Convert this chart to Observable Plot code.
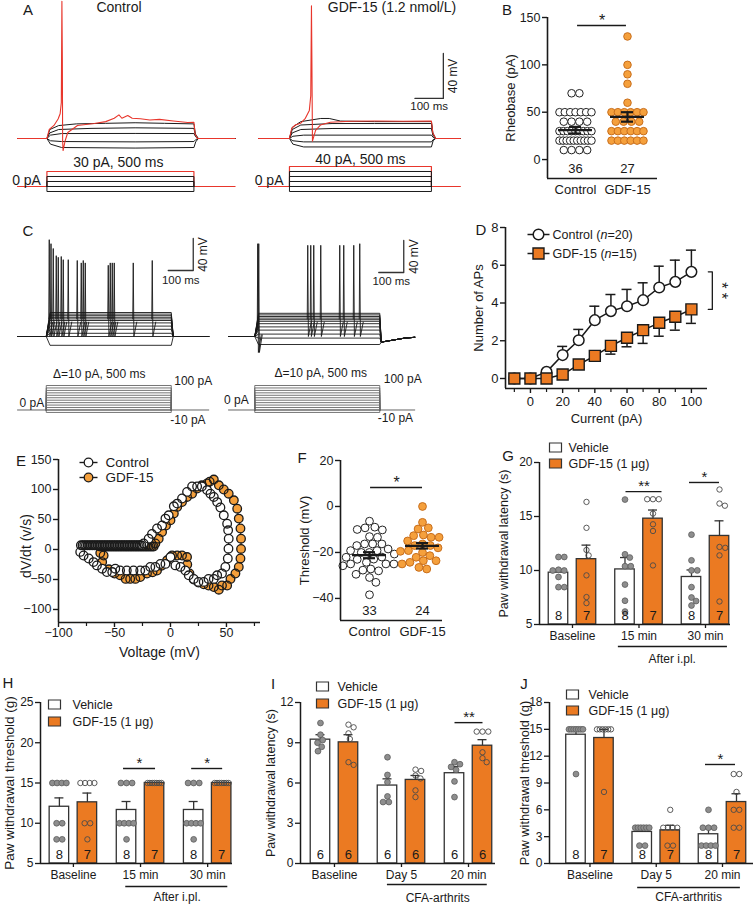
<!DOCTYPE html>
<html>
<head>
<meta charset="utf-8">
<script src="https://cdn.jsdelivr.net/npm/d3@7"></script>
<script src="https://cdn.jsdelivr.net/npm/@observablehq/plot@0.6"></script>
<style>
html,body{margin:0;padding:0;background:#fff;}
#fig{position:relative;width:755px;height:904px;overflow:hidden;background:#fff;font-family:"Liberation Sans",Arial,Helvetica,sans-serif;color:#1a1a1a;}
#fig svg{position:absolute;}
.t{position:absolute;white-space:nowrap;line-height:1;transform:translate(-50%,-50%);}
</style>
</head>
<body>
<div id="fig"></div>
<script>
// ======================= DATA =======================
// Panel A: representative traces [time (ms), Vm (mV)]
const aCtrlRed = [[-100,-60],[0,-60],[8,-52],[24,-48.4],[38,-42.7],[45,-38],[49,-28],[51,62],[52.5,10],[53.5,-62],[55,-70.7],[62,-62],[71,-54.7],[104,-48.4],[161,-46.7],[200,-45],[229,-42],[245,-39],[255,-42],[275,-39.6],[290,-42],[318,-42.5],[350,-43.5],[383,-43],[430,-44.5],[479,-45.8],[500,-45.5],[504,-56],[512,-60],[640,-60]];
const aCtrlBlack1 = [[-100,-60],[0,-60],[10,-52],[40,-48.5],[100,-47],[200,-46.5],[300,-46],[400,-46.5],[500,-47],[505,-56],[515,-60],[640,-60]];
const aCtrlBlack2 = [[-100,-60],[0,-60],[10,-55],[40,-52],[150,-51],[300,-50.5],[500,-51],[505,-57],[515,-60],[640,-60]];
const aCtrlBlack3 = [[-100,-60],[0,-60],[12,-57],[50,-55.6],[300,-55.5],[500,-55.6],[506,-58.5],[515,-60],[640,-60]];
const aCtrlBlack4 = [[-100,-60],[0,-60],[12,-62],[50,-62.7],[300,-63],[500,-62.7],[506,-61],[515,-60],[640,-60]];
const aCtrlBlack5 = [[-100,-60],[0,-60],[12,-65],[50,-68],[300,-68.5],[500,-68],[506,-63],[515,-60],[640,-60]];
const aGdfRed = [[-109,-60],[0,-60],[8,-51],[21,-48],[39,-46.5],[56,-42],[70,-35],[75,-22],[77.5,58],[79,10],[81,-62.4],[92,-52.7],[109,-48],[144,-45.5],[215,-44.7],[300,-44.5],[400,-44.7],[500,-44.5],[505,-55],[515,-60],[602,-60]];
const aGdfBlack1 = [[-109,-60],[0,-60],[10,-50],[40,-45],[110,-42.2],[140,-42.2],[180,-44.5],[300,-45],[500,-45],[505,-55],[515,-60],[602,-60]];
const aGdfBlack2 = [[-109,-60],[0,-60],[10,-52],[40,-48],[150,-46.7],[300,-46.7],[500,-46.7],[505,-56],[515,-60],[602,-60]];
const aGdfBlack3 = [[-109,-60],[0,-60],[10,-55],[40,-52],[150,-51.1],[500,-51.1],[505,-57],[515,-60],[602,-60]];
const aGdfBlack4 = [[-109,-60],[0,-60],[12,-58],[50,-57],[500,-57],[506,-59],[515,-60],[602,-60]];
const aGdfBlack5 = [[-109,-60],[0,-60],[12,-62],[50,-63],[500,-63],[506,-61],[515,-60],[602,-60]];
const aGdfBlack6 = [[-109,-60],[0,-60],[12,-65],[50,-67.5],[500,-67.5],[506,-62],[515,-60],[602,-60]];
const aCtrlStepsBlack = [-10, 0, 10, 20];   // pA
const aCtrlStepRed = 30;
const aGdfStepsBlack = [-10, 0, 10, 20, 30];
const aGdfStepRed = 40;

// Panel C: step protocol and steady levels (mV) per step, spikes (time ms, peak mV)
const cSteps = [-10,0,10,20,30,40,50,60,70,80,90,100];
const cCtrlLevels = [-71,-60,-56,-51,-47,-43,-40,-38,-36,-34,-32,-30];
const cGdfLevels = [-70,-62,-57,-52,-48,-44,-41,-39,-37,-35,-33,-31];
const cCtrlSpikeT = [12,19,28,40,48,60,68,88,124,140,148,156,248,256,264,272,348,424];
const cCtrlSpikePeak = [61,56,50,41,39,40,36,36,35,32,35,32,29,32,32,32,32,35];
const cGdfSpikeT = [12,16,212,224,236,264,340,356,396,420];
const cGdfSpikePeak = [56,56,54,54,54,54,54,54,54,56];

// Panel B: rheobase (pA)
const bGroups = ["Control", "GDF-15"];
const bControl = [70,70,50,50,50,50,50,50,50,40,40,40,40,30,30,30,30,30,30,30,30,30,20,20,20,20,20,20,20,20,20,20,10,10,10,10];
const bGdf = [130,100,90,80,60,50,50,50,50,50,50,40,40,40,40,30,30,30,30,30,30,20,20,20,20,20,20];
const bMean = [31, 45];
const bSem = [3.5, 5];
const bN = [36, 27];

// Panel D: number of APs vs current
const dCurrent = [-10,0,10,20,30,40,50,60,70,80,90,100];
const dCtrl = [0,0,0.35,1.24,2.03,3.09,3.57,3.83,4.15,4.82,5.12,5.65];
const dCtrlSem = [0,0,0,0.46,0.57,0.74,0.88,0.89,0.92,1.13,1.15,1.15];
const dGdf = [0,0,0,0.21,0.74,1.2,1.73,2.16,2.56,2.95,3.27,3.66];
const dGdfSem = [0,0,0,0,0.06,0.2,0.44,0.48,0.7,0.71,0.71,0.74];
const dXTicks = [0,20,40,60,80,100];
const dXMinor = [-10,10,30,50,70,90];
const dYTicks = [0,2,4,6,8];

// Panel E: phase plot [Voltage (mV), dV/dt (V/s)]
const eCtrl = [[-80,7],[-78.5,7],[-77,7],[-75.5,7],[-74,7],[-72.5,7],[-71,7],[-69.5,7],[-68,7],[-66.5,7],[-65,7],[-63.5,7],[-62,7],[-60.5,7],[-59,7],[-57.5,7],[-56,7],[-54.5,7],[-53,7],[-51.5,7],[-50,7],[-48.5,7],[-47,7],[-45.5,7],[-44,7],[-42.5,7],[-41,7],[-39.5,7],[-38,7],[-36.5,7],[-35,7],[-33.5,7],[-32,7],[-30.5,7],[-29,7],[-27.5,7],[-26,7],
[-24,10],[-19.5,18],[-16.5,26],[-12,35],[-7.5,40],[-4.5,51.5],[-1.6,57],[3,72],[6,76.5],[10.3,85],[14.8,96],[19.3,105],[23.8,105],[28,105],[32.7,99],[35.7,93],[38.7,87.6],[41.7,79],[44.6,70],[47.6,57],[50.6,43],[51.5,32],[52,18],[51.8,1.3],[51.2,-15],[49,-29],[46,-40],[41.7,-43],[38.7,-49],[34,-49],[29.7,-54],[25,-54],[20.8,-49],[16.3,-43],[13.3,-35],[8.9,-29],[4.4,-26.5],[0,-12.6],[-4.5,-24],[-9,-24],[-13.5,-29],[-18,-29],[-22.5,-35],[-27,-35],[-33,-35],[-39,-35],[-45,-35],[-49.3,-32],[-52,-37.6],[-56.8,-37.6],[-61,-32],[-65.7,-26.5],[-68.7,-21],[-73,-15],[-77.6,-10],[-80.6,-4]];
const eGdf = [[-63,5],[-61.5,5],[-60,5],[-58.5,5],[-57,5],[-55.5,5],[-54,5],[-52.5,5],[-51,5],[-49.5,5],[-48,5],[-46.5,5],[-45,5],[-43.5,5],[-42,5],[-40.5,5],[-39,5],[-37.5,5],[-36,5],[-34.5,5],[-33,5],[-31.5,5],[-30,5],[-28.5,5],[-27,5],[-25.5,5],[-24,5],[-22.5,5],[-21,5],[-19.5,5],[-18,5],[-16.5,5],[-15,5],
[-13.5,10],[-10.5,18],[-7.5,29],[-4,40],[0,48.7],[3,60],[6,71],[10.3,79],[14.8,87.6],[19.3,93],[23.8,101.6],[28,107],[32.7,110],[35,113],[38.7,116.6],[43.2,107],[47.6,100],[52,93],[56.6,82],[59.6,68],[61,51.5],[62.5,35],[63,18],[63,1],[62.5,-15],[61,-29],[58,-40],[53.6,-49],[50.6,-60],[46,-60],[43.2,-67],[38.7,-62.7],[34,-60],[29.7,-58],[25,-55],[20.8,-50],[17,-40],[15,-25],[14.8,-12.6],[10.3,-10],[6,-10],[1.4,-10],[-3,-18],[-8,-27],[-12,-35],[-16,-38],[-21,-40],[-27,-46],[-31.4,-49],[-36,-49],[-40,-49],[-45,-43],[-50,-40],[-55,-33],[-61,-21],[-59.7,-10],[-62.7,-6]];
const eXTicks = [-100,-50,0,50];
const eXMinor = [-75,-25,25,75];
const eYTicks = [-100,-50,0,50,100,150];

// Panel F: threshold (mV)
const fGroups = ["Control", "GDF-15"];
const fControl = [-6.4,-9.3,-9,-10,-10.2,-13.1,-13.4,-16.3,-17,-16.3,-16.3,-18.5,-19.2,-20,-19.2,-20,-20.7,-22,-22.9,-23,-25,-25.8,-25,-24.3,-25,-28,-27.7,-27.2,-30.9,-29.5,-33,-38.4,-22.1];
const fGdf = [0,-6.9,-9.8,-9.3,-12.4,-12.7,-13.4,-13.4,-16.3,-17,-17,-20,-19.2,-19.5,-22.1,-21.4,-23.6,-23.6,-25,-24.3,-26.5,-27.2,-15,-18];
const fMean = [-21.2, -17.1];
const fSem = [1.3, 1.2];
const fN = [33, 24];

// Panel G: paw withdrawal latency (s)
const gGroups = ["Baseline", "15 min", "30 min"];
const gVehMean = [9.8, 10.1, 9.4];
const gVehSem = [0.3, 1.1, 0.65];
const gGdfMean = [11.05, 14.8, 13.2];
const gGdfSem = [1.3, 0.8, 1.4];
const gVehPts = [[11.25,11.25,10.07,10.0,10.0,9.4,8.46,8.46],[16.57,11.5,11.2,10.4,10.4,8.7,7.2,6.2],[13.32,10.94,10.01,10.01,8.46,7.5,7.17,6.76]];
const gGdfPts = [[16.35,13.95,11.9,11.4,9.55,7.54,6.98],[16.6,16.6,16.6,15.27,14.28,13.66,10.47],[17.5,16.2,16.0,12.18,12.1,11.4,7.13]];
const gVehN = [8,8,8], gGdfN = [7,7,7];

// Panel H: paw withdrawal threshold (g)
const hGroups = ["Baseline", "15 min", "30 min"];
const hVehMean = [12.05, 11.65, 11.65];
const hVehSem = [1.1, 1.05, 1.05];
const hGdfMean = [12.6, 15, 15];
const hGdfSem = [1.15, 0, 0];
const hVehPts = [[15,15,15,15,10,10,8,8],[15,15,15,10,10,10,10,8],[15,15,15,10,10,10,10,8]];
const hGdfPts = [[15,15,15,15,10,10,8],[15,15,15,15,15,15,15],[15,15,15,15,15,15,15]];
const hVehN = [8,8,8], hGdfN = [7,7,7];

// Panel I: paw withdrawal latency (s), CFA arthritis
const iGroups = ["Baseline", "Day 5", "20 min"];
const iVehMean = [9.23, 5.81, 6.73];
const iVehSem = [0.37, 0.5, 0.5];
const iGdfMean = [9.03, 6.23, 8.78];
const iGdfSem = [0.57, 0.33, 0.45];
const iVehPts = [[10.47,9.6,9.2,9.0,8.7,8.37],[7.92,6.6,6.06,5.0,4.58,4.58],[7.55,7.4,7.2,6.98,6.12,4.95]];
const iGdfPts = [[10.35,10.15,9.7,9.28,7.55,7.35],[7.0,6.9,6.56,6.34,5.45,4.95],[9.83,9.83,9.83,8.29,7.85,7.55]];
const iVehN = [6,6,6], iGdfN = [6,6,6];

// Panel J: paw withdrawal threshold (g), CFA arthritis
const jGroups = ["Baseline", "Day 5", "20 min"];
const jVehMean = [14.4, 3.53, 3.27];
const jVehSem = [0.6, 0.55, 0.63];
const jGdfMean = [14.03, 3.71, 6.87];
const jGdfSem = [0.97, 0.56, 0.93];
const jVehPts = [[15,15,15,15,15,15,15,10],[4,4,4,4,4,4,2,2],[6,4,4,4,2,2,2,2]];
const jGdfPts = [[15,15,15,15,15,15,8],[6,4,4,4,4,2,2],[10,10,8,6,6,4,4]];
const jVehN = [8,8,8], jGdfN = [7,7,7];

// ======================= HELPERS =======================
const fig = document.getElementById("fig");
const FONT = "'Liberation Sans', Arial, Helvetica, sans-serif";
const ORANGE = "#EB7A22";
const ORANGE_LIGHT = "#F5A03C";
const RED = "#E8362C";
const INK = "#1a1a1a";

function plotAt(area, spec, fontSize = 12, m = {l: 60, t: 40, r: 40, b: 60}) {
  const [x0, y0, x1, y1] = area;
  const svg = Plot.plot({
    width: x1 - x0 + m.l + m.r,
    height: y1 - y0 + m.t + m.b,
    marginLeft: m.l, marginRight: m.r, marginTop: m.t, marginBottom: m.b,
    style: `font-family: ${FONT}; font-size: ${fontSize}px; background: transparent; overflow: visible; color: ${INK};`,
    ...spec
  });
  svg.setAttribute("font-size", fontSize);
  svg.setAttribute("font-family", FONT);
  svg.style.position = "absolute";
  svg.style.left = (x0 - m.l) + "px";
  svg.style.top = (y0 - m.t) + "px";
  svg.style.maxWidth = "none";
  svg.style.fontSize = fontSize + "px";
  svg.style.fontFamily = FONT;
  svg.querySelectorAll("text").forEach(t => {
    const mm = t.textContent.match(/^(.*\()n(=.*)$/);
    if (mm && t.children.length === 0) {
      t.textContent = "";
      [[mm[1], false], ["n", true], [mm[2], false]].forEach(([s, it]) => {
        const sp = document.createElementNS("http://www.w3.org/2000/svg", "tspan");
        sp.textContent = s;
        if (it) sp.setAttribute("font-style", "italic");
        t.appendChild(sp);
      });
    }
  });
  fig.appendChild(svg);
  return svg;
}
function label(html, x, y, size = 15) {
  const d = document.createElement("div");
  d.className = "t";
  d.style.left = x + "px"; d.style.top = y + "px"; d.style.fontSize = size + "px";
  d.innerHTML = html;
  fig.appendChild(d);
}
const rectSym = {draw(ctx) { ctx.rect(-6, -4.5, 12, 9); }};
const hLine = len => ({draw(ctx) { ctx.moveTo(-len / 2, 0); ctx.lineTo(len / 2, 0); }});

function swarm(vals, ypx, d) {
  const order = vals.map((v, i) => i).sort((a, b) => vals[b] - vals[a]);
  const placed = [], off = new Array(vals.length).fill(0);
  for (const i of order) {
    const y = ypx(vals[i]);
    const near = placed.filter(p => Math.abs(p.y - y) < d);
    const cands = [0];
    for (const p of near) {
      const dx = Math.sqrt(d * d - (p.y - y) ** 2) + 0.01;
      cands.push(p.x + dx, p.x - dx);
    }
    cands.sort((a, b) => Math.abs(a) - Math.abs(b));
    const x = cands.find(c => near.every(p => (p.x - c) ** 2 + (p.y - y) ** 2 >= d * d - 0.05));
    placed.push({x, y}); off[i] = x;
  }
  return off;
}
function rowLayout(vals, d, maxW) {
  const off = new Array(vals.length).fill(0);
  const groups = d3.group(vals.map((v, i) => i), i => vals[i]);
  for (const idx of groups.values()) {
    const n = idx.length;
    const s = n > 1 ? Math.min(d, maxW / (n - 1)) : 0;
    idx.forEach((i, k) => off[i] = (k - (n - 1) / 2) * s);
  }
  return off;
}
const tr = (data, stroke, sw = 1) => Plot.line(data, {x: d => d[0], y: d => d[1], stroke, strokeWidth: sw});
function stepShape(level, tMin, tMax, full) {
  return full ? [[tMin, 0], [0, 0], [0, level], [500, level], [500, 0], [tMax, 0]]
              : [[0, 0], [0, level], [500, level], [500, 0]];
}
function scaleBar(t, v, dt, dv, tdy) {
  return [
    Plot.line([[t - dt, v], [t, v], [t, v + dv]], {x: d => d[0], y: d => d[1], stroke: "#333", strokeWidth: 1.3}),
    Plot.text(["40 mV"], {x: t, y: v + dv / 2, dx: 10, rotate: -90, fontSize: 12}),
    Plot.text(["100 ms"], {x: t - dt / 2, y: v, dy: tdy, fontSize: 11.5})
  ];
}
function spikePaths(ts, pks, deepEarly) {
  return ts.map((t, i) => (deepEarly && t < 20)
    ? [[t - 2, -52], [t, pks[i]], [t + 2.5, -80], [t + 14, -58]]
    : [[t - 2, -38], [t, pks[i]], [t + 2.5, -60], [t + 14, -42]]);
}
const noAxes = (xd, yd) => ({x: {domain: xd, axis: null}, y: {domain: yd, axis: null}});
const MT = {l: 20, t: 10, r: 40, b: 20};

// ======================= PANEL A =======================
{
  const xd = [-100, 640], yd = [-75.1, 62.7];
  plotAt([16.6, 0, 234.2, 155], {...noAxes(xd, yd), marks: [
    ...[aCtrlBlack1, aCtrlBlack2, aCtrlBlack3, aCtrlBlack4, aCtrlBlack5].map(d => tr(d, INK, 1)),
    tr(aCtrlRed, RED, 1.1)
  ]}, 12, MT);
  const xd2 = [-109, 602];
  plotAt([258, 0, 459.9, 155], {...noAxes(xd2, yd), marks: [
    ...[aGdfBlack1, aGdfBlack2, aGdfBlack3, aGdfBlack4, aGdfBlack5, aGdfBlack6].map(d => tr(d, INK, 1)),
    tr(aGdfRed, RED, 1.1),
    ...scaleBar(542, -24.4, 100, 40, 8)
  ]}, 12, MT);
  const sd = [-20, 52];
  plotAt([16.6, 160, 234.2, 196], {...noAxes(xd, sd), marks: [
    tr(stepShape(aCtrlStepRed, -100, 640, true), RED, 1.2),
    ...aCtrlStepsBlack.map(l => tr(stepShape(l, -100, 640, false), INK, 1)),
    Plot.text(["30 pA, 500 ms"], {x: 243, y: aCtrlStepRed, dy: -9, fontSize: 14}),
    Plot.text(["0 pA"], {x: 0, y: 0, dx: -6, dy: -6, textAnchor: "end", fontSize: 14})
  ]}, 14, MT);
  plotAt([258, 160, 459.9, 196], {...noAxes(xd2, sd), marks: [
    tr(stepShape(aGdfStepRed, -109, 602, true), RED, 1.2),
    ...aGdfStepsBlack.map(l => tr(stepShape(l, -109, 602, false), INK, 1)),
    Plot.text(["40 pA, 500 ms"], {x: 250, y: aGdfStepRed, dy: -7, fontSize: 14}),
    Plot.text(["0 pA"], {x: 0, y: 0, dx: -6, dy: -6, textAnchor: "end", fontSize: 14})
  ]}, 14, MT);
}

// ======================= PANEL C =======================
{
  const yd = [-83.75, 70];
  const xdL = [-115, 650], xdR = [-105, 640];
  const ctrlTraces = cCtrlLevels.map(L => [[-115, -60], [0, -60], [15, L], [500, L], [508, -60], [650, -60]]);
  const gdfTraces = cGdfLevels.map(L => [[-105, -60], [0, -60], [15, L], [500, L], [506, -67], [600, -62], [640, -61]]);
  plotAt([17.25, 232, 208.5, 355], {...noAxes(xdL, yd), marks: [
    ...ctrlTraces.map(d => tr(d, INK, 0.9)),
    ...spikePaths(cCtrlSpikeT, cCtrlSpikePeak, false).map(d => tr(d, INK, 0.9)),
    ...scaleBar(588, 22.5, 100, 40, 10)
  ]}, 12, MT);
  plotAt([227.75, 232, 414, 355], {...noAxes(xdR, yd), marks: [
    ...gdfTraces.map(d => tr(d, INK, 0.9)),
    ...spikePaths(cGdfSpikeT, cGdfSpikePeak, true).map(d => tr(d, INK, 0.9)),
    ...scaleBar(596, 20, 100, 40, 9)
  ]}, 12, MT);
  const sd = [-42.9, 140.8];
  const stimMarks = (tMin, tMax) => [
    tr(stepShape(0, tMin, tMax, true), "#666", 1),
    ...cSteps.map(l => tr(stepShape(l, tMin, tMax, false), "#666", 0.9))
  ];
  plotAt([17.25, 375, 208.5, 420], {...noAxes(xdL, sd), marks: [
    ...stimMarks(-115, 650),
    Plot.text(["Δ=10 pA, 500 ms"], {x: 212, y: 100, dy: -11}),
    Plot.text(["100 pA"], {x: 500, y: 100, dx: 3, dy: -4, textAnchor: "start"}),
    Plot.text(["0 pA"], {x: 0, y: 0, dx: -2, dy: -7, textAnchor: "end"}),
    Plot.text(["-10 pA"], {x: 500, y: -10, dx: -1, dy: 8, textAnchor: "start"})
  ]}, 12, MT);
  plotAt([227.75, 375, 414, 420], {...noAxes(xdR, sd), marks: [
    ...stimMarks(-105, 640),
    Plot.text(["Δ=10 pA, 500 ms"], {x: 264, y: 100, dy: -12}),
    Plot.text(["100 pA"], {x: 500, y: 100, dx: 4, dy: -6, textAnchor: "start"}),
    Plot.text(["0 pA"], {x: 0, y: 0, dx: -6, dy: -9.5, textAnchor: "end"}),
    Plot.text(["-10 pA"], {x: 500, y: -10, dx: -2, dy: 6, textAnchor: "start"})
  ]}, 12, MT);
}

// ======================= SCATTER PANELS (B, F) =======================
function scatterPanel(c) {
  const [x0, y0, x1, y1] = c.area;
  const kx = (x1 - x0) / (c.xDomain[1] - c.xDomain[0]);
  const ky = (y1 - y0) / (c.yDomain[1] - c.yDomain[0]);
  const pts = [[], []];
  c.sets.forEach((vals, g) => {
    const off = c.layout === "rows" ? rowLayout(vals, c.d, c.rowW) : swarm(vals, v => v * ky, c.d);
    vals.forEach((v, k) => pts[g].push({v, x: g + off[k] / kx}));
  });
  const stats = c.means.map((m, g) => ({g, m, s: c.sems[g], n: c.ns[g]}));
  const marks = [
    Plot.dot(pts[0], {x: "x", y: "v", r: c.r, fill: "white", stroke: "#222", strokeWidth: 1}),
    Plot.dot(pts[1], {x: "x", y: "v", r: c.r, fill: ORANGE_LIGHT, stroke: "#c86e1c", strokeWidth: 1}),
    Plot.ruleY(stats, {y: "m", x1: d => d.g - 17 / kx, x2: d => d.g + 17 / kx, strokeWidth: 2.2}),
    Plot.ruleX(stats, {x: "g", y1: d => d.m - d.s, y2: d => d.m + d.s, strokeWidth: 2.2}),
    Plot.ruleY(stats, {y: d => d.m + d.s, x1: d => d.g - 6 / kx, x2: d => d.g + 6 / kx, strokeWidth: 2.2}),
    Plot.ruleY(stats, {y: d => d.m - d.s, x1: d => d.g - 6 / kx, x2: d => d.g + 6 / kx, strokeWidth: 2.2}),
    Plot.text(stats, {x: "g", y: c.nY, text: d => String(d.n), fontSize: 13}),
    Plot.ruleX([c.xDomain[0]], {strokeWidth: 1.6}),
    Plot.ruleY([c.yDomain[0]], {strokeWidth: 1.6}),
    Plot.axisY({ticks: c.yTicks, tickSize: 5, tickPadding: 2, strokeWidth: 1.4, label: null, fontSize: 12.5}),
    Plot.axisX({ticks: [0, 1], tickFormat: i => c.groups[i], tickSize: 0, tickPadding: 6, label: null, fontSize: 13}),
    Plot.ruleY([c.sig.y], {x1: c.sig.x1, x2: c.sig.x2, strokeWidth: 1.5}),
    Plot.text(["*"], {x: (c.sig.x1 + c.sig.x2) / 2, y: c.sig.y, dy: -5, fontSize: 16}),
    Plot.text([c.yLabel], {frameAnchor: "left", dx: c.yLabelDx, rotate: -90, textAnchor: "middle", lineAnchor: "middle", fontSize: 13})
  ];
  plotAt(c.area, {x: {domain: c.xDomain}, y: {domain: c.yDomain}, marks}, 13);
}
scatterPanel({area: [547, 17, 657, 178], xDomain: [-0.538, 1.577], yDomain: [-20, 150], yTicks: [0, 50, 100, 150],
  groups: bGroups, sets: [bControl, bGdf], means: bMean, sems: bSem, ns: bN, nY: -10,
  sig: {y: 141.5, x1: 0.04, x2: 0.98}, yLabel: "Rheobase (pA)", yLabelDx: -37,
  layout: "rows", d: 7.8, rowW: 32, r: 3.8});
scatterPanel({area: [340, 460, 442, 620], xDomain: [-0.547, 1.377], yDomain: [-49.6, 20], yTicks: [-40, -20, 0, 20],
  groups: fGroups, sets: [fControl, fGdf], means: fMean, sems: fSem, ns: fN, nY: -45.2,
  sig: {y: 8.3, x1: 0.02, x2: 1.0}, yLabel: "Threshold (mV)", yLabelDx: -36,
  layout: "swarm", d: 8, r: 3.9});

// ======================= PANEL D =======================
{
  const area = [505, 227, 707, 388], xd = [-15.5, 110], yd = [-0.53, 8];
  const kx = (area[2] - area[0]) / (xd[1] - xd[0]);
  const rows = dCurrent.map((c, i) => ({c, ctrl: dCtrl[i], cs: dCtrlSem[i], gdf: dGdf[i], gs: dGdfSem[i]}));
  const cE = rows.filter(d => d.cs > 0), gE = rows.filter(d => d.gs > 0);
  const cLast = dCtrl[dCtrl.length - 1], gLast = dGdf[dGdf.length - 1];
  plotAt(area, {x: {domain: xd}, y: {domain: yd}, marks: [
    Plot.ruleX(cE, {x: "c", y1: "ctrl", y2: d => d.ctrl + d.cs, strokeWidth: 1.5}),
    Plot.ruleY(cE, {y: d => d.ctrl + d.cs, x1: d => d.c - 5 / kx, x2: d => d.c + 5 / kx, strokeWidth: 1.5}),
    Plot.ruleX(gE, {x: "c", y1: "gdf", y2: d => d.gdf - d.gs, strokeWidth: 1.5}),
    Plot.ruleY(gE, {y: d => d.gdf - d.gs, x1: d => d.c - 5 / kx, x2: d => d.c + 5 / kx, strokeWidth: 1.5}),
    Plot.line(rows, {x: "c", y: "ctrl", strokeWidth: 1.5}),
    Plot.line(rows, {x: "c", y: "gdf", strokeWidth: 1.5}),
    Plot.dot(rows, {x: "c", y: "ctrl", r: 5.3, fill: "white", stroke: INK, strokeWidth: 1.5}),
    Plot.dot(rows, {x: "c", y: "gdf", r: 6.2, symbol: "square", fill: ORANGE, stroke: INK, strokeWidth: 1.4}),
    Plot.line([[110.5, cLast], [113, cLast], [113, gLast], [110.5, gLast]], {x: d => d[0], y: d => d[1], strokeWidth: 1.3}),
    Plot.text(["* *"], {x: 116, y: (cLast + gLast) / 2, dx: 4, rotate: 90, fontSize: 16}),
    Plot.ruleX([xd[0]], {strokeWidth: 1.6}),
    Plot.ruleY([yd[0]], {strokeWidth: 1.6}),
    Plot.axisY({ticks: dYTicks, tickSize: 5, tickPadding: 2, strokeWidth: 1.4, label: null, fontSize: 13}),
    Plot.axisX({ticks: dXTicks, tickSize: 5, tickPadding: 3, strokeWidth: 1.4, label: null, fontSize: 13}),
    Plot.axisX({ticks: dXMinor, tickSize: 4, tickFormat: () => "", strokeWidth: 1.2, label: null}),
    Plot.dot([0], {frameAnchor: "top-left", dx: 33, dy: 7, symbol: hLine(22), fill: "none", stroke: INK, strokeWidth: 1.5}),
    Plot.dot([0], {frameAnchor: "top-left", dx: 33, dy: 7, r: 5.3, fill: "white", stroke: INK, strokeWidth: 1.5}),
    Plot.text(["Control (n=20)"], {frameAnchor: "top-left", dx: 47, dy: 7, textAnchor: "start", lineAnchor: "middle", fontSize: 12.5}),
    Plot.dot([0], {frameAnchor: "top-left", dx: 33, dy: 26, symbol: hLine(22), fill: "none", stroke: INK, strokeWidth: 1.5}),
    Plot.dot([0], {frameAnchor: "top-left", dx: 33, dy: 26, r: 6.2, symbol: "square", fill: ORANGE, stroke: INK, strokeWidth: 1.4}),
    Plot.text(["GDF-15 (n=15)"], {frameAnchor: "top-left", dx: 47, dy: 26, textAnchor: "start", lineAnchor: "middle", fontSize: 12.5}),
    Plot.text(["Number of APs"], {frameAnchor: "left", dx: -27, rotate: -90, textAnchor: "middle", lineAnchor: "middle", fontSize: 13}),
    Plot.text(["Current (pA)"], {frameAnchor: "bottom", dy: 30, textAnchor: "middle", lineAnchor: "middle", fontSize: 13})
  ]}, 13);
}

// ======================= PANEL E =======================
{
  const area = [58, 459, 260, 622], xd = [-100, 80.4], yd = [-121.7, 150];
  const X = d => d[0], Y = d => d[1];
  plotAt(area, {x: {domain: xd}, y: {domain: yd}, marks: [
    Plot.line(eGdf, {x: X, y: Y, strokeWidth: 1}),
    Plot.dot(eGdf, {x: X, y: Y, r: 4.3, fill: ORANGE_LIGHT, stroke: "none"}),
    Plot.dot(eGdf, {x: X, y: Y, r: 4.3, fill: "none", stroke: INK, strokeWidth: 1.3}),
    Plot.line(eCtrl, {x: X, y: Y, strokeWidth: 1}),
    Plot.dot(eCtrl, {x: X, y: Y, r: 4.3, fill: "white", stroke: "none"}),
    Plot.dot(eCtrl, {x: X, y: Y, r: 4.3, fill: "none", stroke: INK, strokeWidth: 1.3}),
    Plot.ruleX([xd[0]], {strokeWidth: 1.6}),
    Plot.ruleY([yd[0]], {strokeWidth: 1.6}),
    Plot.axisY({ticks: eYTicks, tickSize: 5, tickPadding: 2, strokeWidth: 1.4, label: null, fontSize: 12.5}),
    Plot.axisX({ticks: eXTicks, tickSize: 5, tickPadding: 1, strokeWidth: 1.4, label: null, fontSize: 12.5}),
    Plot.axisX({ticks: eXMinor, tickSize: 4, tickFormat: () => "", strokeWidth: 1.2, label: null}),
    Plot.dot([0], {frameAnchor: "top-left", dx: 30, dy: 3, symbol: hLine(18), fill: "none", stroke: INK, strokeWidth: 1.4}),
    Plot.dot([0], {frameAnchor: "top-left", dx: 30, dy: 3, r: 4.3, fill: "white", stroke: INK, strokeWidth: 1.3}),
    Plot.text(["Control"], {frameAnchor: "top-left", dx: 47, dy: 3, textAnchor: "start", lineAnchor: "middle", fontSize: 13.5}),
    Plot.dot([0], {frameAnchor: "top-left", dx: 30, dy: 18, symbol: hLine(18), fill: "none", stroke: INK, strokeWidth: 1.4}),
    Plot.dot([0], {frameAnchor: "top-left", dx: 30, dy: 18, r: 4.3, fill: ORANGE_LIGHT, stroke: INK, strokeWidth: 1.3}),
    Plot.text(["GDF-15"], {frameAnchor: "top-left", dx: 47, dy: 18, textAnchor: "start", lineAnchor: "middle", fontSize: 13.5}),
    Plot.text(["dV/dt (v/s)"], {frameAnchor: "left", dx: -32, dy: 5, rotate: -90, textAnchor: "middle", lineAnchor: "middle", fontSize: 14}),
    Plot.text(["Voltage (mV)"], {frameAnchor: "bottom", dy: 30, textAnchor: "middle", lineAnchor: "middle", fontSize: 14})
  ]}, 12.5);
}

// ======================= BAR PANELS (G–J) =======================
function barPanel(c) {
  const [x0, y0, x1, y1] = c.area;
  const kx = (x1 - x0) / (c.xDomain[1] - c.xDomain[0]);
  const ky = (y1 - y0) / (c.yDomain[1] - c.yDomain[0]);
  const OFF = [-14, 14], BW = 19.5, CAP = 4.5;
  const bars = [];
  c.groups.forEach((g, gi) => {
    bars.push({s: 0, cx: gi + OFF[0] / kx, mean: c.vehMean[gi], sem: c.vehSem[gi], n: c.vehN[gi]});
    bars.push({s: 1, cx: gi + OFF[1] / kx, mean: c.gdfMean[gi], sem: c.gdfSem[gi], n: c.gdfN[gi]});
  });
  const pts = [[], []];
  [c.vehPts, c.gdfPts].forEach((sets, s) => sets.forEach((vals, gi) => {
    const off = c.layout === "rows" ? rowLayout(vals, 5.6, 14) : swarm(vals, v => v * ky, 5.8);
    vals.forEach((v, k) => pts[s].push({v, x: gi + (OFF[s] + off[k]) / kx}));
  }));
  const yb = c.yDomain[0];
  const L = c.legend;
  const bx1 = d => d.cx - BW / 2 / kx, bx2 = d => d.cx + BW / 2 / kx;
  const withErr = bars.filter(b => b.sem > 0);
  const marks = [
    Plot.rect(bars.filter(b => b.s === 0), {x1: bx1, x2: bx2, y1: yb, y2: "mean", fill: "white", stroke: "#333", strokeWidth: 1.3}),
    Plot.rect(bars.filter(b => b.s === 1), {x1: bx1, x2: bx2, y1: yb, y2: "mean", fill: ORANGE, stroke: "#333", strokeWidth: 1.3}),
    Plot.ruleX(withErr, {x: "cx", y1: "mean", y2: d => d.mean + d.sem, stroke: "#333", strokeWidth: 1.3}),
    Plot.ruleY(withErr, {y: d => d.mean + d.sem, x1: d => d.cx - CAP / kx, x2: d => d.cx + CAP / kx, stroke: "#333", strokeWidth: 1.3}),
    Plot.dot(pts[0], {x: "x", y: "v", r: 2.9, fill: "#8e8e8e", stroke: "#5c5c5c", strokeWidth: 0.8}),
    Plot.dot(pts[1], {x: "x", y: "v", r: 2.7, fill: "none", stroke: "#4a4a4a", strokeWidth: 0.9}),
    Plot.text(bars, {x: "cx", y: yb, dy: -9, text: d => String(d.n), fontSize: 13}),
    Plot.ruleX([c.xDomain[0]], {strokeWidth: 1.5}),
    Plot.ruleY([yb], {strokeWidth: 1.5}),
    Plot.axisY({ticks: c.yTicks, tickSize: 5, tickPadding: 2, strokeWidth: 1.3, label: null, fontSize: 12}),
    Plot.axisX({ticks: [0, 1, 2], tickFormat: i => c.groups[i], tickSize: 4, tickPadding: 3, strokeWidth: 1.3, label: null, fontSize: 12}),
    ...c.sig.flatMap(s => [
      Plot.ruleY([s.y], {x1: s.g + s.a / kx, x2: s.g + s.b / kx, strokeWidth: 1.4}),
      Plot.text([s.s], {x: s.g + (s.a + s.b) / 2 / kx, y: s.y, dy: -5, fontSize: 15})
    ]),
    Plot.ruleY([yb], {x1: c.under.x1, x2: c.under.x2, dy: c.under.dy, strokeWidth: 1.3}),
    Plot.text([c.under.label], {x: c.under.lx, y: yb, dy: c.under.ldy, fontSize: 12}),
    Plot.dot([0], {frameAnchor: "top-left", dx: L.dx, dy: L.dy1, symbol: rectSym, fill: "white", stroke: "#333", strokeWidth: 1.2}),
    Plot.text(["Vehicle"], {frameAnchor: "top-left", dx: L.tx, dy: L.dy1, textAnchor: "start", lineAnchor: "middle", fontSize: 12.5}),
    Plot.dot([0], {frameAnchor: "top-left", dx: L.dx, dy: L.dy2, symbol: rectSym, fill: ORANGE, stroke: "#333", strokeWidth: 1.2}),
    Plot.text(["GDF-15 (1 μg)"], {frameAnchor: "top-left", dx: L.tx, dy: L.dy2, textAnchor: "start", lineAnchor: "middle", fontSize: 12.5}),
    Plot.text([c.yLabel], {frameAnchor: "left", dx: c.yLabelDx, rotate: -90, textAnchor: "middle", lineAnchor: "middle", fontSize: c.labelSize})
  ];
  plotAt(c.area, {x: {domain: c.xDomain}, y: {domain: c.yDomain}, marks}, 12);
}
barPanel({area: [539, 462, 730, 624], xDomain: [-0.496, 2.376], yDomain: [5, 20], yTicks: [5, 10, 15, 20], groups: gGroups,
  vehMean: gVehMean, vehSem: gVehSem, gdfMean: gGdfMean, gdfSem: gGdfSem, vehPts: gVehPts, gdfPts: gGdfPts, vehN: gVehN, gdfN: gGdfN,
  sig: [{g: 1, a: -13, b: 23, y: 17.3, s: "**"}, {g: 2, a: -16, b: 14, y: 18.15, s: "*"}],
  under: {x1: 0.69, x2: 2.33, dy: 22, label: "After i.pl.", lx: 1.5, ldy: 35},
  legend: {dx: 16, dy1: -15, dy2: 1, tx: 29}, yLabel: "Paw withdrawal latency (s)", yLabelDx: -36, labelSize: 12.5, layout: "swarm"});
barPanel({area: [40, 702, 232, 863], xDomain: [-0.49, 2.37], yDomain: [5, 25], yTicks: [5, 10, 15, 20, 25], groups: hGroups,
  vehMean: hVehMean, vehSem: hVehSem, gdfMean: hGdfMean, gdfSem: hGdfSem, vehPts: hVehPts, gdfPts: hGdfPts, vehN: hVehN, gdfN: hGdfN,
  sig: [{g: 1, a: -17, b: 15, y: 16.8, s: "*"}, {g: 2, a: -16, b: 15, y: 16.8, s: "*"}],
  under: {x1: 0.78, x2: 2.3, dy: 23, label: "After i.pl.", lx: 1.545, ldy: 34},
  legend: {dx: 14, dy1: 2, dy2: 19, tx: 32}, yLabel: "Paw withdrawal threshold (g)", yLabelDx: -31, labelSize: 13.5, layout: "rows"});
barPanel({area: [300, 702, 495, 863], xDomain: [-0.507, 2.403], yDomain: [0, 12], yTicks: [0, 3, 6, 9, 12], groups: iGroups,
  vehMean: iVehMean, vehSem: iVehSem, gdfMean: iGdfMean, gdfSem: iGdfSem, vehPts: iVehPts, gdfPts: iGdfPts, vehN: iVehN, gdfN: iGdfN,
  sig: [{g: 2, a: -13.5, b: 14.5, y: 10.5, s: "**"}],
  under: {x1: 0.79, x2: 2.28, dy: 21, label: "CFA-arthrits", lx: 1.54, ldy: 35},
  legend: {dx: 22, dy1: -16, dy2: 1, tx: 37}, yLabel: "Paw withdrawal latency (s)", yLabelDx: -30, labelSize: 12.5, layout: "swarm"});
barPanel({area: [549, 702, 753, 863], xDomain: [-0.611, 2.468], yDomain: [0, 18], yTicks: [0, 3, 6, 9, 12, 15, 18], groups: jGroups,
  vehMean: jVehMean, vehSem: jVehSem, gdfMean: jGdfMean, gdfSem: jGdfSem, vehPts: jVehPts, gdfPts: jGdfPts, vehN: jVehN, gdfN: jGdfN,
  sig: [{g: 2, a: -17, b: 13, y: 11.07, s: "*"}],
  under: {x1: 0.72, x2: 2.27, dy: 24, label: "CFA-arthritis", lx: 1.49, ldy: 34},
  legend: {dx: 23, dy1: -8, dy2: 8, tx: 39}, yLabel: "Paw withdrawal threshold (g)", yLabelDx: -25, labelSize: 12.8, layout: "rows"});

// ======================= LETTERS & TITLES =======================
label("A", 28, 9); label("B", 507, 9); label("C", 28, 230); label("D", 481, 229); label("E", 21, 460);
label("F", 302, 457); label("G", 508, 455); label("H", 8, 682); label("I", 273, 683); label("J", 524, 683);
label("Control", 119, 7, 14);
label("GDF-15 (1.2 nmol/L)", 392, 7, 14);
</script>
</body>
</html>
